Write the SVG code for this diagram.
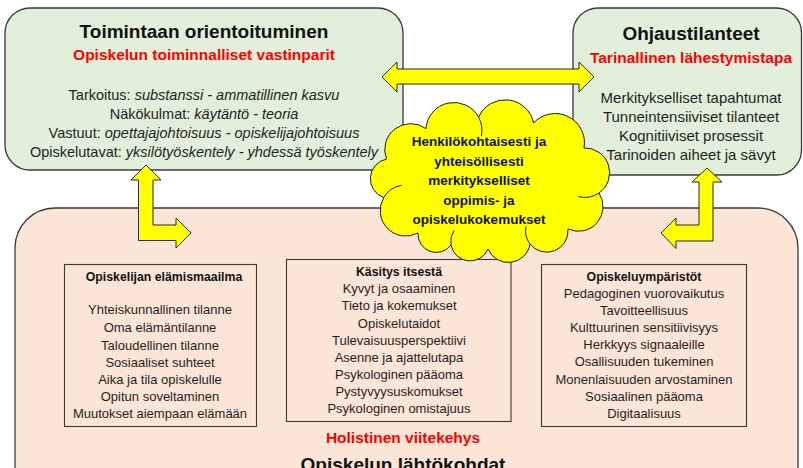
<svg xmlns="http://www.w3.org/2000/svg" width="803" height="468" viewBox="0 0 803 468">
  <style>
    text { font-family: "Liberation Sans", Arial, sans-serif; fill: #1f1f1f; text-anchor: middle; }
    .title { font-size: 19px; font-weight: bold; fill: #111; }
    .sub { font-size: 15.5px; font-weight: bold; fill: #ff0000; }
    .body { font-size: 14.5px; }
    .bodyR { font-size: 15px; }
    .small { font-size: 13px; }
    .smallB { font-size: 12.3px; font-weight: bold; fill: #111; }
    .cloudT { font-size: 13.5px; font-weight: bold; fill: #111; }
    .it { font-style: italic; }
    .green { fill: #e2efda; stroke: #3a3a3a; stroke-width: 1.3; }
    .pink { fill: #fbe5d6; stroke: #3a3a3a; stroke-width: 1.3; }
    .frame { fill: none; stroke: #3a3a3a; stroke-width: 1.1; }
    .arrow { fill: #ffff00; stroke: #2a2a2a; stroke-width: 1; stroke-linejoin: miter; }
    .cloud { fill: #ffff00; stroke: #1a1a1a; stroke-width: 1; }
    .cloudLine { fill: none; stroke: #1a1a1a; stroke-width: 1; }
  </style>

  <rect width="803" height="468" fill="#ffffff"/>

  <!-- Lower frame: starting points of studying -->
  <g id="lahtokohdat">
    <rect class="pink" x="15" y="208" width="783" height="300" rx="40" ry="40"/>
    <text class="sub" x="403" y="443">Holistinen viitekehys</text>
    <text class="title" x="403" y="471">Opiskelun lähtökohdat</text>
  </g>

  <g id="elamismaailma">
    <rect class="frame" x="64.5" y="264.5" width="192" height="162"/>
    <text class="smallB" x="164" y="281">Opiskelijan elämismaailma</text>
    <text class="small" x="160" y="314">Yhteiskunnallinen tilanne</text>
    <text class="small" x="160" y="332">Oma elämäntilanne</text>
    <text class="small" x="160" y="349.5">Taloudellinen tilanne</text>
    <text class="small" x="160" y="366.5">Sosiaaliset suhteet</text>
    <text class="small" x="160" y="384">Aika ja tila opiskelulle</text>
    <text class="small" x="160" y="401">Opitun soveltaminen</text>
    <text class="small" x="160" y="418">Muutokset aiempaan elämään</text>
  </g>

  <g id="kasitys-itsesta">
    <rect class="frame" x="286.5" y="259.5" width="224.5" height="162"/>
    <text class="smallB" x="399" y="276">Käsitys itsestä</text>
    <text class="small" x="399" y="293">Kyvyt ja osaaminen</text>
    <text class="small" x="399" y="310">Tieto ja kokemukset</text>
    <text class="small" x="399" y="327.5">Opiskelutaidot</text>
    <text class="small" x="399" y="344.5">Tulevaisuusperspektiivi</text>
    <text class="small" x="399" y="361.5">Asenne ja ajattelutapa</text>
    <text class="small" x="399" y="379">Psykologinen pääoma</text>
    <text class="small" x="399" y="396">Pystyvyysuskomukset</text>
    <text class="small" x="399" y="413">Psykologinen omistajuus</text>
  </g>

  <g id="opiskeluymparistot">
    <rect class="frame" x="541.5" y="264.5" width="205" height="162"/>
    <text class="smallB" x="644" y="280.5">Opiskeluympäristöt</text>
    <text class="small" x="644" y="297.5">Pedagoginen vuorovaikutus</text>
    <text class="small" x="644" y="314.5">Tavoitteellisuus</text>
    <text class="small" x="644" y="332">Kulttuurinen sensitiivisyys</text>
    <text class="small" x="644" y="349">Herkkyys signaaleille</text>
    <text class="small" x="644" y="366">Osallisuuden tukeminen</text>
    <text class="small" x="644" y="383.5">Monenlaisuuden arvostaminen</text>
    <text class="small" x="644" y="400.5">Sosiaalinen pääoma</text>
    <text class="small" x="644" y="417.5">Digitaalisuus</text>
  </g>

  <!-- Upper left: orientation to action -->
  <g id="toimintaan-orientoituminen">
    <rect class="green" x="5" y="8" width="398" height="162" rx="25" ry="25"/>
    <text class="title" x="204" y="38">Toimintaan orientoituminen</text>
    <text class="sub" x="204" y="60">Opiskelun toiminnalliset vastinparit</text>
    <text class="body" x="204" y="100">Tarkoitus: <tspan class="it">substanssi - ammatillinen kasvu</tspan></text>
    <text class="body" x="204" y="119">Näkökulmat: <tspan class="it">käytäntö - teoria</tspan></text>
    <text class="body" x="204" y="138">Vastuut: <tspan class="it">opettajajohtoisuus - opiskelijajohtoisuus</tspan></text>
    <text class="body" x="204" y="157">Opiskelutavat: <tspan class="it">yksilötyöskentely - yhdessä työskentely</tspan></text>
  </g>

  <!-- Upper right: guidance situations -->
  <g id="ohjaustilanteet">
    <rect class="green" x="573" y="8" width="228.5" height="167" rx="25" ry="25"/>
    <text class="title" x="691" y="39.5">Ohjaustilanteet</text>
    <text class="sub" x="691" y="63">Tarinallinen lähestymistapa</text>
    <text class="bodyR" x="691" y="102.5">Merkitykselliset tapahtumat</text>
    <text class="bodyR" x="691" y="121.5">Tunneintensiiviset tilanteet</text>
    <text class="bodyR" x="691" y="140.5">Kognitiiviset prosessit</text>
    <text class="bodyR" x="691" y="160">Tarinoiden aiheet ja sävyt</text>
  </g>

  <!-- Block arrows between the frames -->
  <g id="connectors">
    <polygon class="arrow" points="382,77 397,62 397,69 579,69 579,62 594,77 579,92 579,84 397,84 397,92"/>
    <polygon class="arrow" points="146,165 161,180 153,180 153,225 176,225 176,218 191,233 176,248 176,240.5 138.5,240.5 138.5,180 131,180"/>
    <polygon class="arrow" points="707,168 722,182 713,182 713,241 676,241 676,248.5 661,233 676,218 676,225 699,225 699,182 692,182"/>
  </g>

  <!-- Central cloud -->
  <g id="kokemukset">
    <path class="cloud" d="M 383.7 197.6
      A 20 20 0 0 1 386.5 159.1
      A 26 26 0 0 1 426 128.6
      A 28 28 0 0 1 478.6 117.2
      A 29 29 0 0 1 533.6 123
      A 29.3 29.3 0 0 1 584 148
      A 24.7 24.7 0 0 1 599 193
      A 24.7 24.7 0 0 1 568 229
      A 21.3 21.3 0 0 1 530 244
      A 22 22 0 0 1 488 249
      A 19.4 19.4 0 0 1 451 245
      A 18.3 18.3 0 0 1 418 233
      A 25.6 25.6 0 0 1 383.7 197.6 Z"/>
    <path class="cloudLine" d="M 383.7 197.6 A 25.6 25.6 0 0 1 401.5 185.3"/>
    <path class="cloudLine" d="M 478.6 117.2 A 28 28 0 0 1 481.4 136.1"/>
    <path class="cloudLine" d="M 599 193 A 24.7 24.7 0 0 1 578.4 196.5"/>
    <path class="cloudLine" d="M 530 244 A 21.3 21.3 0 0 1 526 226.5"/>
    <path class="cloudLine" d="M 451 245 A 19.4 19.4 0 0 1 454.1 230.5"/>
    <text class="cloudT" x="479" y="146">Henkilökohtaisesti ja</text>
    <text class="cloudT" x="479" y="165.5">yhteisöllisesti</text>
    <text class="cloudT" x="479" y="185">merkitykselliset</text>
    <text class="cloudT" x="479" y="204.5">oppimis- ja</text>
    <text class="cloudT" x="479" y="224">opiskelukokemukset</text>
  </g>
</svg>
